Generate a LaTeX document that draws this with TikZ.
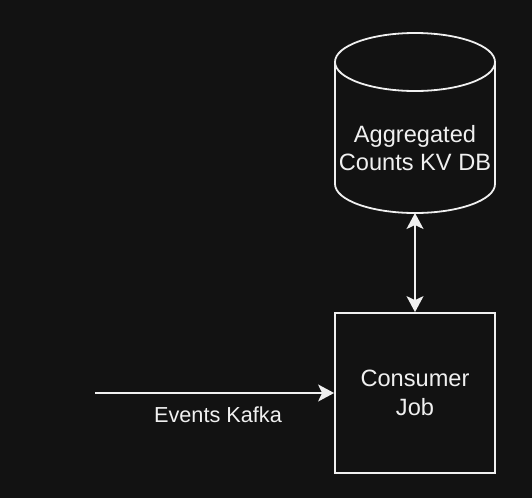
\documentclass[tikz,border=0pt]{standalone}
\usepackage{fontspec}
\setmainfont{Liberation Sans}
\usepackage{xcolor}
\usetikzlibrary{arrows.meta}
\definecolor{bgdark}{HTML}{121212}
\definecolor{inkwhite}{HTML}{F0F0F0}

\begin{document}
\begin{tikzpicture}[x=1pt, y=-1pt,
	    >=Stealth,
	    line/.style={draw=inkwhite, line width=1.8pt},
	    flow/.style={line, -{Stealth[length=16pt, width=17pt, inset=4pt]}},
	    both/.style={line, {Stealth[length=16pt, width=17pt, inset=4pt]}-{Stealth[length=16pt, width=17pt, inset=4pt]}},
	    jobbox/.style={line, minimum width=160pt, minimum height=160pt, align=center,
	      text=inkwhite, font=\fontsize{23.6}{28.5}\selectfont},
	    every node/.style={inner sep=0pt}
	  ]
	  \fill[bgdark] (0,0) rectangle (532,498);
	  \useasboundingbox (0,0) rectangle (532,498);

	  % database cylinder
	  \draw[line] (415,62) ellipse[x radius=80, y radius=29];
	  \draw[line] (335,62) -- (335,184)
	    arc[start angle=180, end angle=0, x radius=80, y radius=29] -- (495,62);
	  \node[text=inkwhite, align=center, font=\fontsize{23.6}{28.5}\selectfont] (db) at (415,148)
	    {Aggregated\\Counts KV DB};
	  \coordinate (dbbot) at (415,213);

	  % consumer
	  \node[jobbox] (job) at (415,393) {Consumer\\Job};
	  \coordinate (src) at (95,393);

	  % connectors
	  \draw[both] (dbbot) -- (job.north);
	  \draw[flow] (src) -- (job.west);
	  \node[text=inkwhite, font=\fontsize{21.7}{26}\selectfont] (evlabel) at (218,415) {Events Kafka};
	\end{tikzpicture}
\end{document}
